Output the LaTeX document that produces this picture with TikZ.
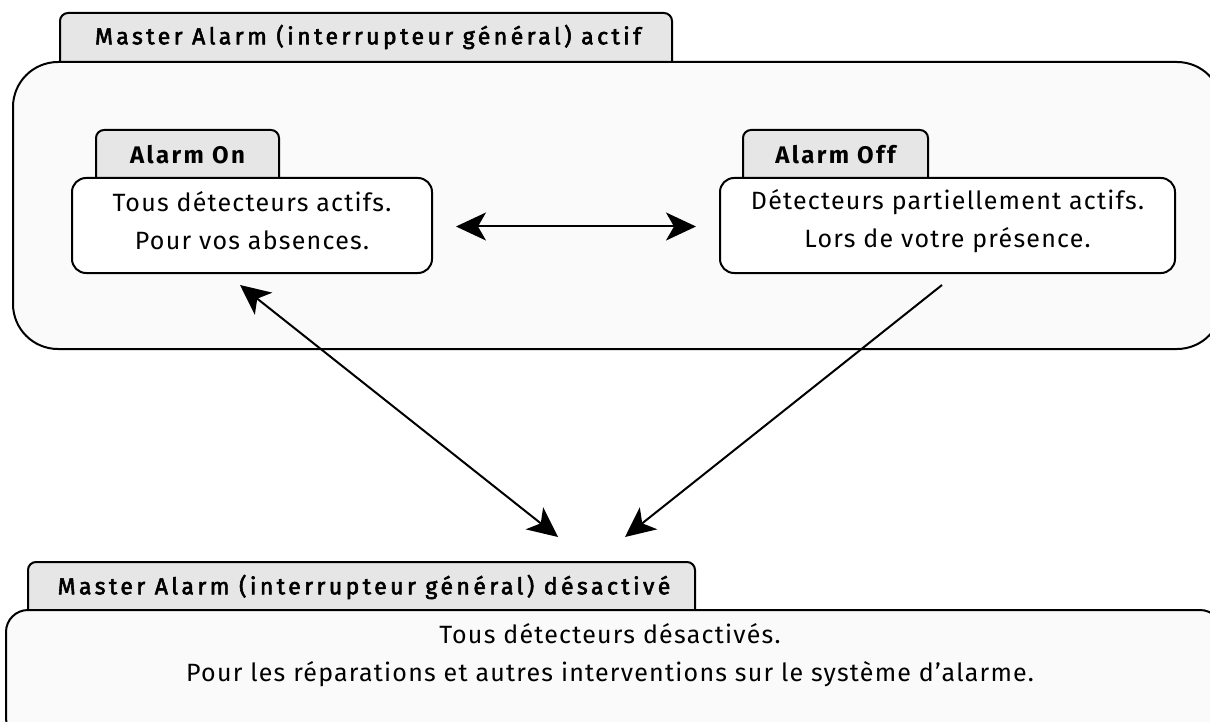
\documentclass[tikz,border=0pt]{standalone}
\usepackage{fontspec}
\setmainfont{Fira Sans}[LetterSpace=5]
\newfontfamily\tabfont{Fira Sans}[FakeBold=2.5,LetterSpace=15]
\newfontfamily\statetabfont{Fira Sans Bold}[LetterSpace=10]
\usetikzlibrary{arrows.meta,calc}
\definecolor{tabgray}{HTML}{E6E6E6}
\definecolor{boxfill}{HTML}{FAFAFA}
\begin{document}
\begin{tikzpicture}[x=1pt,y=-1pt,line width=2pt,
  tabshape/.style={draw=black,fill=tabgray,rounded corners=8pt},
  tabtext/.style={font=\tabfont\fontsize{23}{26}\selectfont,inner sep=0pt},
  stabtext/.style={font=\statetabfont\fontsize{24}{26}\selectfont,inner sep=0pt},
  statebox/.style={draw=black,fill=white,rounded corners=14pt,inner sep=0pt},
  bodytext/.style={align=center,font=\fontsize{25}{38}\selectfont,inner sep=0pt},
  bigbox/.style={draw=black,fill=boxfill},
  conn/.style={line width=2pt,-{Stealth[length=30pt,width=28pt,inset=8pt]}},
  conn2/.style={line width=2pt,{Stealth[length=30pt,width=28pt,inset=8pt]}-{Stealth[length=30pt,width=28pt,inset=8pt]}}]
\useasboundingbox (0,0) rectangle (1210,722);
% top group
\draw[tabshape] (60,64) -- (60,13) -- (672,13) -- (672,64);
\node[tabtext] (ttop) at (368,37) {Master Alarm (interrupteur général) actif};
\draw[bigbox,rounded corners=45pt] (13,62) rectangle (1222,349);
% Alarm On
\draw[tabshape] (96,180) -- (96,130) -- (279,130) -- (279,180);
\node[stabtext] (ton) at (187.5,155) {Alarm On};
\node[statebox,minimum width=360pt,minimum height=95pt] (on) at (252,225.5) {};
\node[bodytext] (ontext) at (252,221) {Tous détecteurs actifs.\\Pour vos absences.};
% Alarm Off
\draw[tabshape] (743,180) -- (743,130) -- (928,130) -- (928,180);
\node[stabtext] (toff) at (835.5,155) {Alarm Off};
\node[statebox,minimum width=455pt,minimum height=95pt] (off) at (947.5,225.5) {};
\node[bodytext] (offtext) at (947.5,221) {Détecteurs partiellement actifs.\\Lors de votre présence.};
% bottom group
\draw[tabshape] (28,612) -- (28,562) -- (695,562) -- (695,612);
\node[tabtext] (tbot) at (364,587) {Master Alarm (interrupteur général) désactivé};
\draw[bigbox,rounded corners=22pt] (6,610) rectangle (1222,740);
\node[bodytext] (dis) at (610,655)
  {Tous détecteurs désactivés.\\Pour les réparations et autres interventions sur le système d’alarme.};
% connectors
\coordinate (s1) at (240,285);
\coordinate (e1) at (558,537);
\coordinate (s2) at (942,285);
\coordinate (e2) at (625,537);
\draw[conn2] ($(on.east)+(23,1)$) -- ($(off.west)+(-23,1)$);
\draw[conn2] (s1) -- (e1);
\draw[conn] (s2) -- (e2);
\end{tikzpicture}
\end{document}
